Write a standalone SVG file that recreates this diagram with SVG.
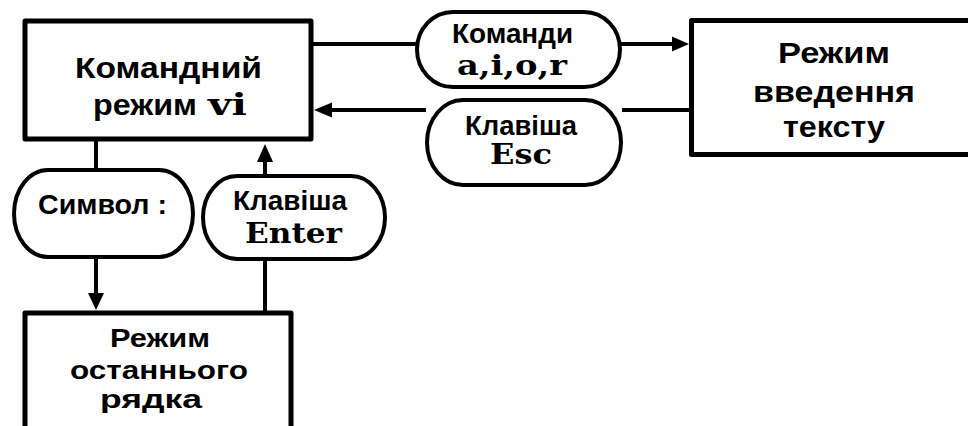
<svg xmlns="http://www.w3.org/2000/svg" width="968" height="426" viewBox="0 0 968 426">
  <style>
    .box { fill: #fff; stroke: #000; stroke-width: 5; stroke-linejoin: round; }
    .pill { fill: #fff; stroke: #000; stroke-width: 4; }
    .wire { fill: none; stroke: #000; stroke-width: 4; }
    .head { fill: #000; }
    .t { font-family: "Liberation Sans", Arial, sans-serif; font-weight: bold; fill: #000; }
    .m { font-family: "DejaVu Serif", "Liberation Serif", serif; font-weight: bold; fill: #000; }
  </style>
  <rect width="968" height="426" fill="#fff"/>

  <!-- connectors -->
  <g id="connectors">
    <!-- command mode -> insert mode -->
    <line class="wire" x1="313" y1="44" x2="416" y2="44"/>
    <line class="wire" x1="621" y1="44" x2="674" y2="44"/>
    <polygon class="head" points="689,44 672,36.5 672,51.5"/>
    <!-- insert mode -> command mode -->
    <line class="wire" x1="689" y1="110" x2="622" y2="110"/>
    <line class="wire" x1="426" y1="110" x2="330" y2="110"/>
    <polygon class="head" points="314,110 332,102.5 332,117.5"/>
    <!-- command mode -> last line mode -->
    <line class="wire" x1="96" y1="141" x2="96" y2="170"/>
    <line class="wire" x1="96" y1="257" x2="96" y2="294"/>
    <polygon class="head" points="96,310 88,293 104,293"/>
    <!-- last line mode -> command mode -->
    <line class="wire" x1="265" y1="311" x2="265" y2="259"/>
    <line class="wire" x1="265" y1="176" x2="265" y2="160"/>
    <polygon class="head" points="265,144 257,162 273,162"/>
  </g>

  <!-- command mode -->
  <g id="command-mode">
    <rect class="box" x="25" y="21" width="286" height="118"/>
    <text class="t" x="75" y="78" font-size="29" textLength="187" lengthAdjust="spacingAndGlyphs">Командний</text>
    <text class="t" x="93" y="115" font-size="29" textLength="104" lengthAdjust="spacingAndGlyphs">режим</text>
    <text class="m" x="208" y="115" font-size="29" textLength="39" lengthAdjust="spacingAndGlyphs">vi</text>
  </g>

  <!-- insert mode -->
  <g id="insert-mode">
    <rect class="box" x="691.5" y="20.5" width="290" height="134"/>
    <text class="t" x="778" y="63" font-size="29" textLength="112" lengthAdjust="spacingAndGlyphs">Режим</text>
    <text class="t" x="753" y="102" font-size="29" textLength="162" lengthAdjust="spacingAndGlyphs">введення</text>
    <text class="t" x="783" y="137" font-size="29" textLength="102" lengthAdjust="spacingAndGlyphs">тексту</text>
  </g>

  <!-- last line mode -->
  <g id="last-line-mode">
    <rect class="box" x="25" y="313" width="266" height="130"/>
    <text class="t" x="110" y="347" font-size="26" textLength="100" lengthAdjust="spacingAndGlyphs">Режим</text>
    <text class="t" x="70" y="379" font-size="26" textLength="178" lengthAdjust="spacingAndGlyphs">останнього</text>
    <text class="t" x="100" y="408" font-size="25" textLength="102" lengthAdjust="spacingAndGlyphs">рядка</text>
  </g>

  <!-- label: commands a,i,o,r -->
  <g id="label-commands">
    <rect class="pill" x="417" y="12" width="203" height="75" rx="36" ry="37.5"/>
    <text class="t" x="452" y="43" font-size="28" textLength="121" lengthAdjust="spacingAndGlyphs">Команди</text>
    <text class="m" x="457" y="75" font-size="28" textLength="110" lengthAdjust="spacingAndGlyphs">a,i,o,r</text>
  </g>

  <!-- label: Esc key -->
  <g id="label-esc">
    <rect class="pill" x="427" y="100" width="194" height="85" rx="36" ry="42.5"/>
    <text class="t" x="465" y="135" font-size="28" textLength="112" lengthAdjust="spacingAndGlyphs">Клавіша</text>
    <text class="m" x="490" y="164" font-size="27" textLength="62" lengthAdjust="spacingAndGlyphs">Esc</text>
  </g>

  <!-- label: colon symbol -->
  <g id="label-colon">
    <rect class="pill" x="14" y="170" width="179" height="87" rx="34" ry="43.5"/>
    <text class="t" x="38" y="214" font-size="28" textLength="129" lengthAdjust="spacingAndGlyphs">Символ :</text>
  </g>

  <!-- label: Enter key -->
  <g id="label-enter">
    <rect class="pill" x="203" y="176" width="182" height="83" rx="34" ry="41.5"/>
    <text class="t" x="233" y="210" font-size="28" textLength="114" lengthAdjust="spacingAndGlyphs">Клавіша</text>
    <text class="m" x="245" y="243" font-size="27" textLength="97" lengthAdjust="spacingAndGlyphs">Enter</text>
  </g>
</svg>
